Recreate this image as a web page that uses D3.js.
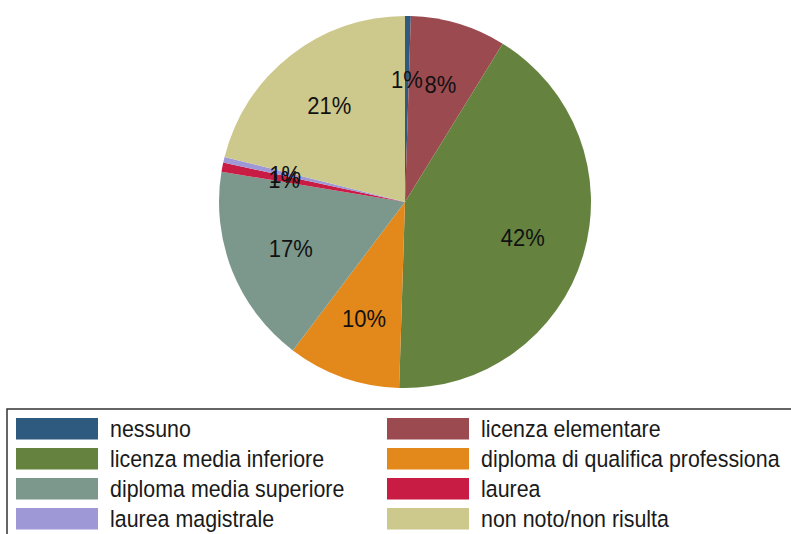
<!DOCTYPE html>
<html>
<head>
<meta charset="utf-8">
<script src="https://cdn.jsdelivr.net/npm/d3@7"></script>
<style>
  html, body { margin: 0; padding: 0; background: #fff; }
  svg { display: block; }
  text { font-family: "Liberation Sans", Arial, sans-serif; }
</style>
</head>
<body>
<svg id="chart" width="791" height="534"></svg>
<script>
// categorie e quote (%)
const categories = ['nessuno', 'licenza elementare', 'licenza media inferiore',
  'diploma di qualifica professiona', 'diploma media superiore', 'laurea',
  'laurea magistrale', 'non noto/non risulta']
const shares = [0.5, 8.3, 41.7, 9.8, 17.3, 0.8, 0.5, 21.1]
const colors = ['#2f5a7f', '#9b4a50', '#65833f', '#e3891b', '#7c988c', '#c81c45', '#9e99d6', '#cdc88b']

const data = categories.map((c, i) => ({ name: c, value: shares[i], color: colors[i] }))

const svg = d3.select('#chart')
const cx = 405, cy = 202, r = 186
const stretch = 1.12 // testo leggermente allungato in verticale come nell'originale

const pie = d3.pie().sort(null).value(d => d.value)
const arc = d3.arc().innerRadius(0).outerRadius(r)
const labelArc = d3.arc().innerRadius(123).outerRadius(123)

const g = svg.append('g')
  .attr('transform', `translate(${cx},${cy})`)

const arcs = pie(data)

g.selectAll('path')
  .data(arcs)
  .enter().append('path')
  .attr('d', arc)
  .attr('fill', d => d.data.color)

g.selectAll('.plabel')
  .data(arcs)
  .enter().append('text')
  .attr('class', 'plabel')
  .attr('transform', d => {
    const [x, y] = labelArc.centroid(d)
    return `translate(${x},${y}) scale(1,${stretch})`
  })
  .attr('text-anchor', 'middle')
  .attr('dy', '0.36em')
  .attr('font-size', 22)
  .attr('fill', '#111')
  .text(d => Math.round(d.data.value) + '%')

// legenda
const legend = svg.append('g')
svg.insert('rect', 'g')
  .attr('x', 7).attr('y', 409)
  .attr('width', 800).attr('height', 200)
  .attr('fill', '#fff')
  .attr('stroke', '#333')
  .attr('stroke-width', 1.5)

const colX = [16, 387]
const rowY = 418, rowStep = 30

const item = legend.selectAll('.item')
  .data(data)
  .enter().append('g')
  .attr('class', 'item')
  .attr('transform', (d, i) => `translate(${colX[i % 2]},${rowY + Math.floor(i / 2) * rowStep})`)

item.append('rect')
  .attr('width', 82)
  .attr('height', 21.5)
  .attr('fill', d => d.color)

item.append('text')
  .attr('transform', `translate(94,10.5) scale(1,${stretch})`)
  .attr('dy', '0.36em')
  .attr('font-size', 21.4)
  .attr('fill', '#1a1a1a')
  .text(d => d.name)
</script>
</body>
</html>
